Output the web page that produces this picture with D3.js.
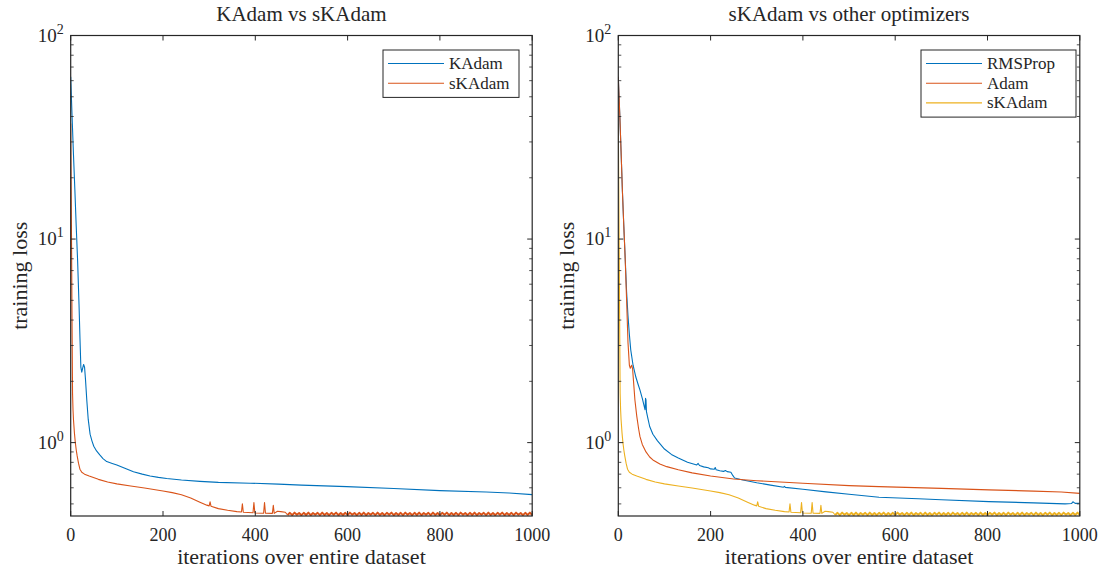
<!DOCTYPE html>
<html>
<head>
<meta charset="utf-8">
<script src="https://cdn.jsdelivr.net/npm/d3@7"></script>
<style>
body { margin: 0; background: #fff; }
svg text { font-family: "Liberation Serif", "Times New Roman", serif; fill: #262626; }
</style>
</head>
<body>
<svg id="chart" width="1104" height="571"></svg>
<script>
// iteration, training loss
var kadam = [[0,62.7],[3,40],[6,26],[9,17.5],[12,11.5],[15,7.8],[18,4.8],[20,3.3],[22,2.35],[24,2.22],[26,2.32],
  [28,2.42],[30,2.35],[32,2.05],[35,1.6],[38,1.3],[42,1.1],[46,1.02],[50,0.96],[56,0.91],[63,0.87],[70,0.835],
  [78,0.807],[90,0.79],[100,0.777],[120,0.745],[136,0.72],[155,0.7],[172,0.686],[190,0.675],[208,0.666],
  [240,0.655],[280,0.645],[320,0.638],[389,0.632],[450,0.625],[500,0.618],[598,0.608],[700,0.595],[800,0.581],
  [900,0.572],[950,0.566],[1000,0.555]];

var adam = [[0,62.7],[3,42],[6,27],[9,17],[12,11.5],[15,7.9],[18,5],[21,3.1],[24,2.4],[26,2.32],[29,2.4],[31,2.3],
  [33,2.0],[36,1.62],[40,1.35],[44,1.17],[47,1.07],[52,0.98],[60,0.9],[68,0.85],[75,0.822],[90,0.785],[105,0.762],
  [130,0.735],[160,0.71],[200,0.686],[250,0.663],[300,0.65],[400,0.632],[500,0.615],[565,0.608],[700,0.596],
  [803,0.586],[900,0.578],[960,0.572],[1000,0.563]];

var rmsprop = [[0,62.7],[3,42],[6,27],[9,17],[12,11.5],[15,8],[18,5.5],[21,4.2],[24,3.4],[27,2.85],[32,2.4],[38,2.1],
  [43,1.93],[47,1.81],[52,1.65],[58,1.45],[59,1.65],[60,1.62],[61,1.42],[64,1.32],[68,1.2],[75,1.1],[85,1.02],
  [100,0.93],[115,0.875],[130,0.84],[150,0.8],[170,0.777],[173,0.79],[176,0.772],[185,0.76],[195,0.752],[200,0.743],
  [208,0.74],[210,0.755],[212,0.735],[220,0.728],[228,0.722],[232,0.73],[236,0.72],[244,0.715],[248,0.69],[252,0.67],
  [270,0.655],[300,0.635],[330,0.618],[358,0.604],[360,0.61],[362,0.603],[400,0.59],[450,0.573],[500,0.558],
  [565,0.539],[650,0.53],[700,0.524],[803,0.513],[900,0.506],[968,0.5],[982,0.502],[985,0.512],[990,0.503],[1000,0.504]];

var skadamHead = [[0,37],[1,18],[2,8.5],[3,3.6],[4,1.75],[5,1.45],[6,1.3],[8,1.12],[10,1.0],[12,0.92],[14,0.86],
  [17,0.79],[20,0.74],[24,0.715],[30,0.70],[40,0.685],[60,0.66],[80,0.64],[100,0.627],[130,0.612],[160,0.598],
  [200,0.578],[220,0.568],[240,0.555],[260,0.535],[280,0.51],[295,0.493],[300,0.489],[302,0.512],[304,0.487],
  [320,0.474],[340,0.465],[360,0.458],[370,0.456],[372,0.5],[374,0.455],[395,0.452],[397,0.508],[399,0.451],
  [418,0.45],[420,0.508],[422,0.45],[437,0.449],[439,0.492],[441,0.449],[448,0.46],[455,0.458],[465,0.455]];

// noisy plateau, one value every 5 iterations from 470 on
var skadamTailStart = 470, skadamTailStep = 5;
var skadamTail = [0.441,0.452,0.440,0.453,0.442,0.451,0.440,0.452,0.441,0.453,0.440,0.451,0.442,0.452,0.440,0.453,
  0.441,0.451,0.440,0.452,0.442,0.453,0.440,0.451,0.441,0.452,0.440,0.453,0.442,0.451,0.440,0.452,0.441,0.453,
  0.440,0.451,0.442,0.452,0.440,0.453,0.441,0.451,0.440,0.452,0.442,0.453,0.440,0.451,0.441,0.452,0.440,0.453,
  0.442,0.451,0.440,0.452,0.441,0.453,0.440,0.451,0.442,0.452,0.440,0.453,0.441,0.451,0.440,0.452,0.442,0.453,
  0.440,0.451,0.441,0.452,0.440,0.453,0.442,0.451,0.440,0.452,0.441,0.453,0.440,0.451,0.442,0.452,0.440,0.453,
  0.441,0.451,0.440,0.452,0.442,0.453,0.440,0.451,0.441,0.452,0.440,0.453,0.442,0.451,0.440,0.452,0.441,0.453,0.440];

var xTicks = [0, 200, 400, 600, 800, 1000];
var yMajor = [1, 10, 100];
var yMinor = [0.5,0.6,0.7,0.8,0.9,2,3,4,5,6,7,8,9,20,30,40,50,60,70,80,90];

var panels = [
  {title: "KAdam vs sKAdam", left: 70.7,
   series: [{name: "KAdam", color: "#0072BD", key: "kadam"}, {name: "sKAdam", color: "#D95319", key: "skadam"}],
   legend: {x: 383, y: 50, w: 136}},
  {title: "sKAdam vs other optimizers", left: 618.3,
   series: [{name: "RMSProp", color: "#0072BD", key: "rmsprop"}, {name: "Adam", color: "#D95319", key: "adam"},
            {name: "sKAdam", color: "#EDB120", key: "skadam"}],
   legend: {x: 921, y: 50, w: 155}}
];

var tailPts = skadamTail.map(function(v, i) { return [skadamTailStart + i*skadamTailStep, v]; });
// the dense noisy plateau is drawn as a heavier stroke
var dataByKey = {
  kadam: [{pts: kadam, w: 1.1}],
  adam: [{pts: adam, w: 1.1}],
  rmsprop: [{pts: rmsprop, w: 1.1}],
  skadam: [{pts: skadamHead.concat([tailPts[0]]), w: 1.1}, {pts: tailPts, w: 1.9}]
};

var svg = d3.select("#chart");
var axW = 461.5, axTop = 35.5, axBottom = 516;
var axisColor = "#262626";

var y = d3.scaleLog().domain([0.436, 100]).range([axBottom, axTop]);

panels.forEach(function(p) {
  var x = d3.scaleLinear().domain([0, 1000]).range([p.left, p.left + axW]);
  var g = svg.append("g");

  var clipId = "clip" + Math.round(p.left);
  svg.append("clipPath").attr("id", clipId).append("rect")
    .attr("x", p.left).attr("y", axTop).attr("width", axW).attr("height", axBottom - axTop);

  var line = d3.line().x(function(d) { return x(d[0]); }).y(function(d) { return y(d[1]); });
  p.series.forEach(function(s) {
    dataByKey[s.key].forEach(function(part) {
      g.append("path").attr("d", line(part.pts))
        .attr("clip-path", "url(#" + clipId + ")")
        .attr("fill", "none").attr("stroke", s.color).attr("stroke-width", part.w)
        .attr("stroke-linejoin", "round");
    });
  });

  // box
  g.append("rect").attr("x", p.left).attr("y", axTop).attr("width", axW).attr("height", axBottom - axTop)
    .attr("fill", "none").attr("stroke", axisColor).attr("stroke-width", 1.2);

  // x ticks, both sides, inward
  xTicks.forEach(function(t) {
    g.append("line").attr("x1", x(t)).attr("x2", x(t)).attr("y1", axBottom).attr("y2", axBottom - 5)
      .attr("stroke", axisColor).attr("stroke-width", 1);
    g.append("line").attr("x1", x(t)).attr("x2", x(t)).attr("y1", axTop).attr("y2", axTop + 5)
      .attr("stroke", axisColor).attr("stroke-width", 1);
    g.append("text").attr("x", x(t)).attr("y", axBottom + 25).attr("text-anchor", "middle")
      .attr("font-size", 18).text(t);
  });

  yMajor.forEach(function(t) {
    [[p.left, p.left + 5], [p.left + axW, p.left + axW - 5]].forEach(function(e) {
      g.append("line").attr("x1", e[0]).attr("x2", e[1]).attr("y1", y(t)).attr("y2", y(t))
        .attr("stroke", axisColor).attr("stroke-width", 1);
    });
    var lab = g.append("text").attr("x", p.left - 7).attr("y", y(t) + 6).attr("text-anchor", "end")
      .attr("font-size", 19);
    lab.append("tspan").text("10");
    lab.append("tspan").attr("dy", -8).attr("font-size", 14).text(Math.round(Math.log10(t)));
  });
  yMinor.forEach(function(t) {
    [[p.left, p.left + 3], [p.left + axW, p.left + axW - 3]].forEach(function(e) {
      g.append("line").attr("x1", e[0]).attr("x2", e[1]).attr("y1", y(t)).attr("y2", y(t))
        .attr("stroke", axisColor).attr("stroke-width", 0.8);
    });
  });

  g.append("text").attr("x", p.left + axW/2).attr("y", 21).attr("text-anchor", "middle")
    .attr("font-size", 21).text(p.title);
  g.append("text").attr("x", p.left + axW/2).attr("y", 564).attr("text-anchor", "middle")
    .attr("font-size", 22).text("iterations over entire dataset");
  g.append("text").attr("transform", "translate(" + (p.left - 44) + "," + (axTop + axBottom)/2 + ") rotate(-90)")
    .attr("text-anchor", "middle").attr("font-size", 22).text("training loss");

  // legend
  var L = p.legend, rowH = 19.7;
  var h = p.series.length * rowH + 8;
  g.append("rect").attr("x", L.x).attr("y", L.y).attr("width", L.w).attr("height", h)
    .attr("fill", "#fff").attr("stroke", axisColor).attr("stroke-width", 1);
  p.series.forEach(function(s, i) {
    var yy = L.y + 13.5 + i * rowH;
    g.append("line").attr("x1", L.x + 5).attr("x2", L.x + 61).attr("y1", yy).attr("y2", yy)
      .attr("stroke", s.color).attr("stroke-width", 1.1);
    g.append("text").attr("x", L.x + 66).attr("y", yy + 5.5).attr("font-size", 17).text(s.name);
  });
});
</script>
</body>
</html>
